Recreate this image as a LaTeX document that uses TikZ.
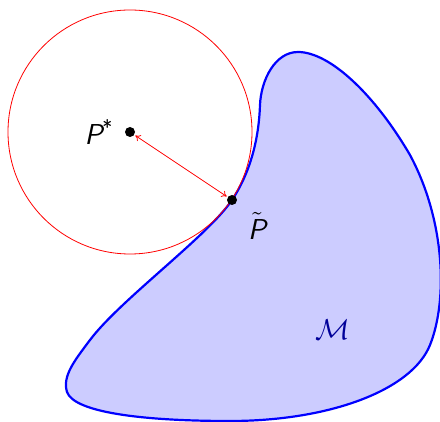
\documentclass[tikz,border=0pt]{standalone}
\usetikzlibrary{arrows.meta}
\begin{document}
\begin{tikzpicture}[x=0.5pt,y=-0.5pt,
  dot/.style={circle,fill=black,inner sep=0pt,minimum size=5pt},
  lbl/.style={font=\Large\sffamily\itshape},
  conn/.style={red,line width=0.4pt,{To[length=2.5pt,width=3.5pt]}-{To[length=2.5pt,width=3.5pt]}}]
\useasboundingbox (0,0) rectangle (440,422);
\begin{scope}
\clip (0,0) rectangle (440,422);
\draw[blue,line width=1.1pt,fill=blue!20]
  (232,200) .. controls (208,236) and (120,300) .. (90,340)
  .. controls (75,360) and (62,376) .. (67,392)
  .. controls (74,412) and (140,421) .. (230,421)
  .. controls (330,421) and (412,390) .. (430,345)
  .. controls (448,300) and (445,220) .. (410,155)
  .. controls (375,95) and (330,52) .. (298,52)
  .. controls (275,52) and (261,80) .. (260,105)
  .. controls (259,135) and (252,170) .. (232,200) -- cycle;
\end{scope}
\draw[red,line width=0.4pt] (130,132) circle[radius=61pt];
\node[dot] (ps) at (130,132) {};
\node[dot] (pt) at (232,200) {};
\draw[conn,shorten <=0.5pt,shorten >=0.5pt] (pt) -- (ps);
\node[lbl] (lps) at (99,132) {P\textsuperscript{\upshape *}};
\node[lbl] (lpt) at (257,226) {$\tilde{\mbox{\Large\sffamily\itshape P}}$};
\node[text=blue!60!black,font=\Large] (m) at (333,330) {$\mathcal{M}$};
\end{tikzpicture}
\end{document}
